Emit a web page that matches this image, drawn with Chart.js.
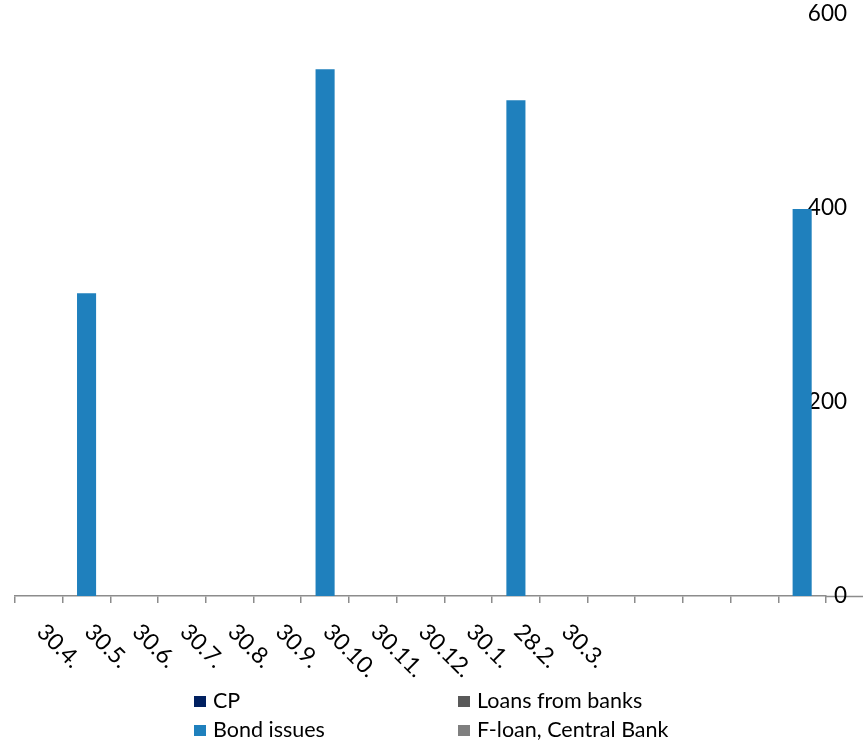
<!DOCTYPE html>
<html>
<head>
<meta charset="utf-8">
<script src="https://cdn.jsdelivr.net/npm/chart.js@4/dist/chart.umd.min.js"></script>
<style>
  html, body { margin: 0; padding: 0; background: #ffffff; }
  #wrap { width: 863px; height: 740px; }
</style>
</head>
<body>
<div id="wrap"><canvas id="c" width="863" height="740"></canvas></div>
<script>
// Month-end dates (the last five slots carry no label)
const categories = ['30.4.', '30.5.', '30.6.', '30.7.', '30.8.', '30.9.', '30.10.', '30.11.', '30.12.', '30.1.', '28.2.', '30.3.', '', '', '', '', ''];

// Funding by instrument
const seriesNames = ['CP', 'Loans from banks', 'Bond issues', 'F-loan, Central Bank'];
const cpValues = [null, null, null, null, null, null, null, null, null, null, null, null, null, null, null, null, null];
const bankLoanValues = [null, null, null, null, null, null, null, null, null, null, null, null, null, null, null, null, null];
const bondValues = [null, 312, null, null, null, null, 543, null, null, null, 511, null, null, null, null, null, 399];
const centralBankValues = [null, null, null, null, null, null, null, null, null, null, null, null, null, null, null, null, null];

// Right-hand value axis
const yTicks = [0, 200, 400, 600];

const colors = ['#002060', '#595959', '#1f80bd', '#7f7f7f'];
const FONT = 'Lato';
const AXIS_GREY = '#8c8c8c';

// Horizontal base line runs on to the right edge of the canvas
const baseLineExtension = {
  id: 'baseLineExtension',
  beforeDraw(chart) {
    const { ctx, chartArea } = chart;
    ctx.save();
    ctx.strokeStyle = AXIS_GREY;
    ctx.lineWidth = 1.5;
    ctx.beginPath();
    ctx.moveTo(chartArea.right - 1, chartArea.bottom + 0.5);
    ctx.lineTo(chart.width, chartArea.bottom + 0.5);
    ctx.stroke();
    ctx.restore();
  }
};

// Category labels slanted downwards to the right
const slantedLabels = {
  id: 'slantedLabels',
  afterDraw(chart) {
    const { ctx } = chart;
    const xs = chart.scales.x;
    ctx.save();
    ctx.fillStyle = '#000000';
    ctx.font = '23px ' + FONT;
    ctx.textAlign = 'left';
    ctx.textBaseline = 'middle';
    chart.data.labels.forEach((lab, i) => {
      if (!lab) return;
      const x = xs.getPixelForValue(i) + 2;
      const y = chart.chartArea.bottom + 32;
      ctx.save();
      ctx.translate(x, y);
      ctx.rotate(Math.PI / 4);
      ctx.fillText(lab, 0, 0);
      ctx.restore();
    });
    ctx.restore();
  }
};

// Two-column legend under the axis
const columnLegend = {
  id: 'columnLegend',
  afterDraw(chart) {
    const { ctx } = chart;
    const colX = [194, 458];
    const rowY = [701, 730];
    ctx.save();
    ctx.font = '21.5px ' + FONT;
    ctx.textAlign = 'left';
    ctx.textBaseline = 'middle';
    chart.data.datasets.forEach((ds, i) => {
      const x = colX[i % 2];
      const y = rowY[Math.floor(i / 2)];
      ctx.fillStyle = ds.backgroundColor;
      ctx.fillRect(x, y - 5, 12, 11);
      ctx.fillStyle = '#000000';
      ctx.fillText(ds.label, x + 19, y);
    });
    ctx.restore();
  }
};

const valueLists = [cpValues, bankLoanValues, bondValues, centralBankValues];

new Chart(document.getElementById('c'), {
  type: 'bar',
  data: {
    labels: categories,
    datasets: seriesNames.map((name, i) => ({
      label: name,
      data: valueLists[i],
      backgroundColor: colors[i],
      borderWidth: 0,
      categoryPercentage: 0.8,
      barPercentage: 0.5
    }))
  },
  options: {
    responsive: false,
    animation: false,
    devicePixelRatio: 1,
    layout: { padding: { left: 15, right: 0, top: 14, bottom: 137 } },
    plugins: {
      legend: { display: false },
      tooltip: { enabled: false }
    },
    scales: {
      x: {
        stacked: true,
        offset: true,
        ticks: { display: false },
        grid: {
          display: true,
          offset: true,
          drawOnChartArea: false,
          drawTicks: true,
          tickLength: 7,
          color: AXIS_GREY,
          lineWidth: 1.5
        },
        border: { display: true, color: AXIS_GREY, width: 1.5 }
      },
      y: {
        stacked: true,
        position: 'right',
        min: yTicks[0],
        max: yTicks[yTicks.length - 1],
        afterBuildTicks(scale) { scale.ticks = yTicks.map(v => ({ value: v })); },
        afterFit(scale) {
          scale.width = 37;
          scale.paddingTop = 0;
          scale.paddingBottom = 0;
        },
        ticks: {
          mirror: true,
          crossAlign: 'near',
          padding: 21,
          color: '#000000',
          font: { family: FONT, size: 22.5 }
        },
        grid: { display: false },
        border: { display: false }
      }
    }
  },
  plugins: [baseLineExtension, slantedLabels, columnLegend]
});
</script>
</body>
</html>
